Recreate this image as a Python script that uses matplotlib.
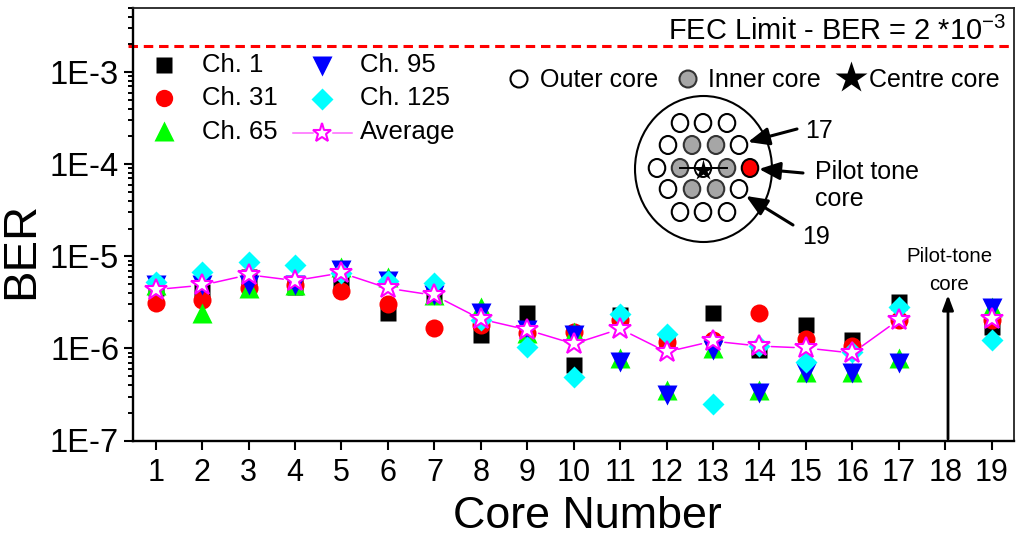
import numpy as np
import matplotlib
matplotlib.use("Agg")
import matplotlib.pyplot as plt
from matplotlib.patches import Circle, Ellipse
from matplotlib.ticker import LogLocator, NullFormatter, FixedLocator

plt.rcParams['font.family'] = ['Liberation Sans', 'DejaVu Sans']
plt.rcParams['mathtext.fontset'] = 'custom'
plt.rcParams['mathtext.rm'] = 'Liberation Sans'

nan = float('nan')
cores = [1, 2, 3, 4, 5, 6, 7, 8, 9, 10, 11, 12, 13, 14, 15, 16, 17, 18, 19]
ch1 = [4.5e-6, 4.05e-6, 6.0e-6, 4.65e-6, 5.25e-6, 2.45e-6, 3.75e-6, 1.39e-6, 2.4e-6, 6.55e-7,
       2.3e-6, 1.16e-6, 2.4e-6, 9.65e-7, 1.8e-6, 1.23e-6, 3.16e-6, nan, 1.71e-6]
ch31 = [3.1e-6, 3.37e-6, 4.5e-6, 4.85e-6, 4.25e-6, 3.06e-6, 1.65e-6, 1.8e-6, 1.47e-6, 1.5e-6,
        2.05e-6, 1.16e-6, 1.23e-6, 2.4e-6, 1.26e-6, 1.06e-6, 2.05e-6, nan, 2.05e-6]
ch65 = [4.85e-6, 2.4e-6, 4.5e-6, 4.85e-6, 7.7e-6, 6.0e-6, 3.77e-6, 2.8e-6, 1.47e-6, 1.5e-6,
        7.9e-7, 3.57e-7, 1.01e-6, 3.57e-7, 5.5e-7, 5.5e-7, 7.9e-7, nan, 2.8e-6]
ch95 = [4.85e-6, 4.85e-6, 4.85e-6, 4.85e-6, 7.1e-6, 5.45e-6, 3.77e-6, 2.45e-6, 1.59e-6, 1.39e-6,
        7.07e-7, 3.15e-7, 9.65e-7, 3.25e-7, 5.4e-7, 5.4e-7, 6.95e-7, nan, 2.75e-6]
ch125 = [5.25e-6, 6.8e-6, 8.7e-6, 8.1e-6, 6.6e-6, 5.45e-6, 5.1e-6, 2.05e-6, 1.04e-6, 4.9e-7,
         2.35e-6, 1.43e-6, 2.47e-7, 1.06e-6, 7.07e-7, 9.15e-7, 2.85e-6, nan, 1.23e-6]
average = [4.35e-6, 4.85e-6, 6.3e-6, 5.45e-6, 6.6e-6, 4.5e-6, 3.77e-6, 2.08e-6, 1.59e-6, 1.12e-6,
           1.63e-6, 9.15e-7, 1.2e-6, 1.06e-6, 1.01e-6, 8.9e-7, 2.05e-6, nan, 2.08e-6]
fec_limit = 1.92e-3
tick_labels = ['1E-7', '1E-6', '1E-5', '1E-4', '1E-3']
tick_values = [1e-7, 1e-6, 1e-5, 1e-4, 1e-3]

W, H = 1024, 539
fig = plt.figure(figsize=(W / 100, H / 100), dpi=100)
L, R, T, B = 133, 1014, 7.5, 440.5
ax = fig.add_axes([L / W, 1 - B / H, (R - L) / W, (B - T) / H])
ax.set_yscale('log')
ax.set_xlim(0.511, 19.48)
ax.set_ylim(1e-7, 10 ** (-7 + (B - T) / 92.1))

ax.plot(cores, ch1, 's', color='black', ms=12, mec='none', zorder=3, label='Ch. 1')
ax.plot(cores, ch31, 'o', color='red', ms=13, mec='none', zorder=3.1, label='Ch. 31')
ax.plot(cores, ch65, '^', color='#00ff00', ms=14.5, mec='none', zorder=3.2, label='Ch. 65')
ax.plot(cores, ch95, 'v', color='#0000ff', ms=14.5, mec='none', zorder=3.3, label='Ch. 95')
ax.plot(cores, ch125, 'D', color='#00ffff', ms=11.7, mec='none', zorder=3.4, label='Ch. 125')

# average line, broken around the symbols
for i in range(len(cores) - 1):
    if np.isnan(average[i]) or np.isnan(average[i + 1]):
        continue
    ax.annotate('', xy=(cores[i + 1], average[i + 1]), xytext=(cores[i], average[i]), zorder=3.5,
                arrowprops=dict(arrowstyle='-', color='#ff00ff', lw=1.1, shrinkA=8.5, shrinkB=8.5))
ax.plot(cores, average, '*', mfc='white', mec='#ff00ff', mew=1.5, ms=16.5, ls='none', zorder=3.6)

ax.plot([0.4, 19.48], [fec_limit, fec_limit], color='red', lw=2.2, ls=(0, (3.1, 1.9)),
        zorder=2, clip_on=False)

for s in ax.spines.values():
    s.set_linewidth(1.3)
    s.set_color('#222222')
for k in ('left', 'bottom'):
    ax.spines[k].set_linewidth(1.7)
    ax.spines[k].set_color('black')

ax.xaxis.set_major_locator(FixedLocator(cores))
ax.set_xticklabels([str(c) for c in cores])
ax.yaxis.set_major_locator(FixedLocator(tick_values))
ax.set_yticklabels(tick_labels)
ax.yaxis.set_minor_locator(LogLocator(base=10, subs=np.arange(2, 10), numticks=12))
ax.yaxis.set_minor_formatter(NullFormatter())
ax.tick_params(axis='x', which='major', length=6.5, width=1.5, labelsize=22, pad=6)
ax.tick_params(axis='y', which='major', length=6.5, width=1.5, labelsize=23.5, pad=3.5)
ax.tick_params(axis='y', which='minor', length=3.3, width=1.4)

fig.text(21 / W, 1 - 250 / H, 'BER', rotation=90, fontsize=34, ha='center', va='center')
fig.text(587 / W, 1 - 516 / H, 'Core Number', fontsize=32.3, ha='center', va='center')

fig.text(1006 / W, 1 - 31 / H, r'FEC Limit - BER = 2 *10$^{-3}$', fontsize=20.9,
         ha='right', va='center', zorder=5)

# legend (manual layout)
ov = fig.add_axes([0, 0, 1, 1], facecolor='none')
ov.set_xlim(0, W)
ov.set_ylim(H, 0)
ov.axis('off')
ov.set_zorder(5)
ov.plot(164, 65, 's', color='black', ms=11.5, mec='none')
ov.plot(164, 98, 'o', color='red', ms=12.5, mec='none')
ov.plot(164, 131, '^', color='#00ff00', ms=14.5, mec='none')
ov.plot(322, 66, 'v', color='#0000ff', ms=14.5, mec='none')
ov.plot(322, 99, 'D', color='#00ffff', ms=11.7, mec='none')
ov.plot([293, 313], [133, 133], color='#ff66ff', lw=1.1)
ov.plot([333, 352], [133, 133], color='#ff66ff', lw=1.1)
ov.plot(322, 133, '*', mfc='white', mec='#ff00ff', mew=1.5, ms=14)
for x, y, s in [(202, 65, 'Ch. 1'), (202, 98, 'Ch. 31'), (202, 132, 'Ch. 65'),
                (360, 65, 'Ch. 95'), (360, 98, 'Ch. 125'), (360, 132, 'Average')]:
    ov.text(x, y, s, fontsize=18.5, va='center', ha='left')

# core-type key
ov.add_patch(Circle((519, 79), 8.5, fc='white', ec='black', lw=1.5))
ov.text(540, 80, 'Outer core', fontsize=18, va='center')
ov.add_patch(Circle((688, 79), 8.5, fc='#a6a6a6', ec='#333333', lw=1.5))
ov.text(708, 80, 'Inner core', fontsize=18, va='center')
ov.plot(851, 78, '*', color='black', ms=24, mec='none')
ov.text(869, 80, 'Centre core', fontsize=18, va='center')

# fibre cross-section
ov.add_patch(Ellipse((703.5, 169), 137, 146, fc='white', ec='black', lw=1.5))
outer = [(680, 123), (703, 123), (727, 123), (668, 145), (739, 145), (657, 168),
         (668, 189), (739, 189), (680, 212), (703, 212), (727, 212)]
inner = [(692, 145), (716, 145), (680, 168), (727, 168), (692, 189), (716, 189)]
ov.plot([680, 727], [168, 168], color='black', lw=1.4, zorder=1.5)
for c in outer:
    ov.add_patch(Ellipse(c, 16.5, 18, fc='white', ec='black', lw=1.5))
for c in inner:
    ov.add_patch(Ellipse(c, 16.5, 18, fc='#a6a6a6', ec='#333333', lw=1.5))
ov.add_patch(Ellipse((750, 168), 16.5, 18, fc='red', ec='black', lw=1.5))
ov.add_patch(Ellipse((703, 168), 16.5, 18, fc='white', ec='black', lw=1.4))
ov.plot(703, 170, '*', color='black', ms=16, mec='none')


def arrow(tail, head, lw=2.2, ms=15, w=0.36, l=0.85):
    ov.annotate('', xy=head, xytext=tail,
                arrowprops=dict(arrowstyle=f'-|>,head_width={w},head_length={l}', color='black',
                                lw=lw, shrinkA=0, shrinkB=0, mutation_scale=ms))


arrow((797, 129), (748, 142))
arrow((803, 173), (759, 169))
arrow((793, 225), (746, 196))
ov.text(805, 131, '17', fontsize=18, va='center')
ov.text(815, 172, 'Pilot tone', fontsize=18, va='center')
ov.text(815, 199, 'core', fontsize=18, va='center')
ov.text(802, 237, '19', fontsize=18, va='center')

# pilot-tone note
ov.text(949, 257, 'Pilot-tone', fontsize=14.7, ha='center', va='center')
ov.text(949, 284, 'core', fontsize=14.7, ha='center', va='center')
arrow((948, 439), (948, 295), lw=2, ms=11, w=0.3, l=0.8)

fig.savefig('out.png', dpi=100)
